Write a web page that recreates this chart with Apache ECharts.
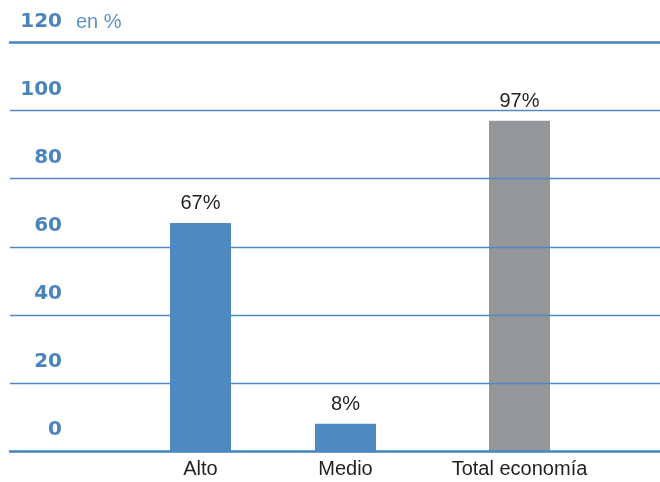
<!DOCTYPE html>
<html>
<head>
<meta charset="utf-8">
<script src="https://cdn.jsdelivr.net/npm/echarts@6/dist/echarts.min.js"></script>
<style>
html,body{margin:0;padding:0;background:#fff;}
#chart{width:660px;height:482px;}
</style>
</head>
<body>
<div id="chart"></div>
<script>
// Data
const categories = ['Alto', 'Medio', 'Total economía'];
const values = [67, 8, 97];
const barColors = ['#4e8ac0', '#4e8ac0', '#959699'];
const yTicks = [0, 20, 40, 60, 80, 100, 120];
const unitLabel = 'en %';
// Category slot order on the axis (blank slots between bars)
const slotIndex = [6, 11, 17];
const slotCount = 22;

const axisData = [];
const barData = [];
for (let i = 0; i < slotCount; i++) { axisData.push(''); barData.push(null); }
categories.forEach((c, k) => {
  axisData[slotIndex[k]] = c;
  barData[slotIndex[k]] = { value: values[k], itemStyle: { color: barColors[k] } };
});

const blue = '#4a86c2';
const labelBlue = '#4a84bd';
const yMin = yTicks[0], yMax = yTicks[yTicks.length - 1], yStep = yTicks[1] - yTicks[0];

const chart = echarts.init(document.getElementById('chart'), null, { renderer: 'canvas' });
chart.setOption({
  animation: false,
  backgroundColor: '#fff',
  title: {
    text: unitLabel, left: 76, top: 12, padding: 0,
    textStyle: { fontFamily: 'Liberation Sans', fontSize: 20, fontWeight: 'normal', color: '#5a92c8', lineHeight: 20 }
  },
  grid: [
    { left: 10, right: 0, top: 42.5, bottom: 31 },
    { left: 12, width: 638, top: 42.5, bottom: 31 }
  ],
  xAxis: [
    { gridIndex: 0, type: 'value', min: 0, max: 1, position: 'bottom', z: 6,
      axisLine: { show: true, lineStyle: { color: blue, width: 2.5 } },
      axisTick: { show: false }, axisLabel: { show: false }, splitLine: { show: false } },
    { gridIndex: 0, type: 'value', min: 0, max: 1, position: 'top', z: 6,
      axisLine: { show: true, lineStyle: { color: blue, width: 2.5 } },
      axisTick: { show: false }, axisLabel: { show: false }, splitLine: { show: false } },
    { gridIndex: 1, type: 'category', data: axisData, boundaryGap: true,
      axisLine: { show: false }, axisTick: { show: false },
      axisLabel: { interval: 0, margin: 8, fontFamily: 'Liberation Sans', fontSize: 20, lineHeight: 20, color: '#231f20' } }
  ],
  yAxis: [
    { gridIndex: 0, type: 'value', min: yMin, max: yMax, interval: yStep, z: 5,
      axisLine: { show: false }, axisTick: { show: false },
      splitLine: { show: true, lineStyle: { color: '#4f8ac6', width: 1.4 } },
      axisLabel: { inside: true, align: 'right', margin: 52, verticalAlign: 'bottom',
        padding: [0, 0, 11, 0], lineHeight: 20,
        fontFamily: 'DejaVu Sans', fontWeight: 'bold', fontSize: 20, color: labelBlue } },
    { gridIndex: 1, type: 'value', min: yMin, max: yMax, interval: yStep, show: false,
      splitLine: { show: false } }
  ],
  series: [{
    type: 'bar', xAxisIndex: 2, yAxisIndex: 1, z: 1,
    data: barData, barWidth: 61,
    label: { show: true, position: 'top', distance: 9, formatter: '{c}%',
      fontFamily: 'Liberation Sans', fontSize: 20, lineHeight: 20, color: '#231f20' }
  }]
});
</script>
</body>
</html>
